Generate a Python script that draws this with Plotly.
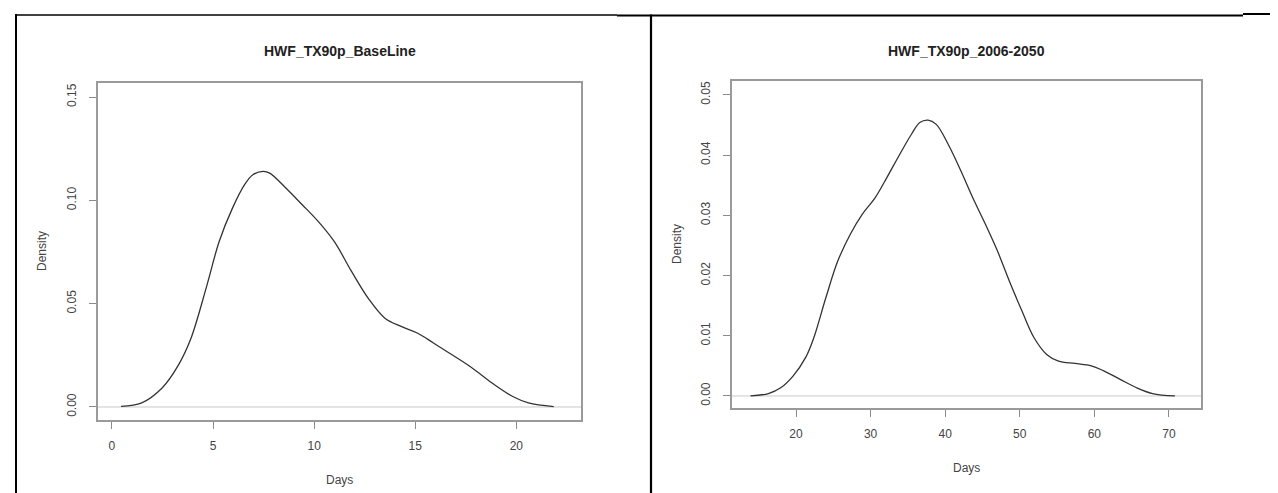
import plotly.graph_objects as go

W, H = 1278, 493

# ---- data ----
base_title = "HWF_TX90p_BaseLine"
base_days = [0.45, 1.47, 2.48, 3.3, 3.9, 4.7, 5.3, 5.95, 6.56, 6.97, 7.47, 7.8, 8.6, 9.4,
             10.2, 11.0, 11.85, 12.67, 13.5, 14.3, 15.1, 15.9, 16.7, 17.8, 18.8, 19.8, 20.6, 21.85]
base_density = [0.0003, 0.002, 0.0092, 0.0205, 0.033, 0.059, 0.080, 0.096, 0.1076, 0.1124, 0.114,
                 0.1132, 0.106, 0.098, 0.0898, 0.080, 0.0656, 0.0527, 0.043, 0.039, 0.0358, 0.031,
                 0.026, 0.019, 0.0116, 0.0052, 0.002, 0.0002]
base_xticks = [0, 5, 10, 15, 20]
base_yticks = [0.00, 0.05, 0.10, 0.15]
base_yticktext = ["0.00", "0.05", "0.10", "0.15"]

fut_title = "HWF_TX90p_2006-2050"
fut_days = [13.9, 16.3, 18.0, 19.6, 21.3, 22.4, 24.0, 25.6, 27.3, 28.9, 30.6, 32.2, 33.9, 35.5,
            36.6, 37.7, 38.8, 40.4, 42.1, 43.7, 45.4, 47.0, 48.6, 50.3, 51.9, 53.6, 55.2, 57.4,
            59.6, 61.2, 63.4, 65.6, 67.8, 70.8]
fut_density = [0.0, 0.0004, 0.0014, 0.0033, 0.0064, 0.0097, 0.0163, 0.0224, 0.0269, 0.0302,
               0.0329, 0.0363, 0.0401, 0.0435, 0.0454, 0.0458, 0.0451, 0.0418, 0.0374, 0.0329,
               0.0285, 0.0241, 0.0191, 0.0141, 0.0097, 0.0069, 0.0058, 0.0054, 0.0050, 0.0042,
               0.0028, 0.0014, 0.0004, 0.0]
fut_xticks = [20, 30, 40, 50, 60, 70]
fut_yticks = [0.00, 0.01, 0.02, 0.03, 0.04, 0.05]
fut_yticktext = ["0.00", "0.01", "0.02", "0.03", "0.04", "0.05"]

x_label = "Days"
y_label = "Density"

FONT = "Liberation Sans, Arial, sans-serif"
TXT = "#444444"


def px(x):
    return x / W


def py(y):
    return 1 - y / H


fig = go.Figure()
fig.add_trace(go.Scatter(x=base_days, y=base_density, mode="lines", xaxis="x", yaxis="y",
                         line=dict(color="#333333", width=1.3, shape="spline", smoothing=1.0),
                         hoverinfo="skip", showlegend=False))
fig.add_trace(go.Scatter(x=fut_days, y=fut_density, mode="lines", xaxis="x2", yaxis="y2",
                         line=dict(color="#333333", width=1.3, shape="spline", smoothing=1.0),
                         hoverinfo="skip", showlegend=False))

axis_common = dict(showgrid=False, zeroline=False, showline=True, mirror=True,
                   linecolor="#9a9a9a", linewidth=1.6, ticks="outside", ticklen=7,
                   tickcolor="#8a8a8a", tickwidth=1.2,
                   tickfont=dict(family=FONT, size=12, color=TXT))

fig.update_layout(
    width=W, height=H, margin=dict(l=0, r=0, t=0, b=0),
    paper_bgcolor="white", plot_bgcolor="white",
    xaxis=dict(domain=[px(90), px(573)], range=[-0.69, 23.2], tickvals=base_xticks,
               anchor="y", ticklabelstandoff=7, **axis_common),
    yaxis=dict(domain=[py(412), py(75)], range=[-0.0063, 0.1568], tickvals=base_yticks,
               ticktext=base_yticktext, tickangle=-90, anchor="x", ticklabelstandoff=8,
               **axis_common),
    xaxis2=dict(domain=[px(724), px(1193)], range=[11.42, 74.3], tickvals=fut_xticks,
                anchor="y2", ticklabelstandoff=7, **axis_common),
    yaxis2=dict(domain=[py(400), py(73)], range=[-0.0020, 0.0523], tickvals=fut_yticks,
                ticktext=fut_yticktext, tickangle=-90, anchor="x2", ticklabelstandoff=8,
                **axis_common),
)

shapes = []
# zero reference lines
for xr, yr in (("x domain", "y"), ("x2 domain", "y2")):
    shapes.append(dict(type="line", xref=xr, yref=yr, x0=0, x1=1, y0=0, y1=0,
                       line=dict(color="#c8c8c8", width=1), layer="below"))
# table borders
shapes += [
    dict(type="line", xref="paper", yref="paper", x0=px(8), x1=px(8), y0=py(6), y1=0,
         line=dict(color="black", width=2)),
    dict(type="line", xref="paper", yref="paper", x0=px(7), x1=px(609), y0=py(7), y1=py(7),
         line=dict(color="black", width=1.4)),
    dict(type="line", xref="paper", yref="paper", x0=px(609), x1=px(1235), y0=py(7.5), y1=py(7.5),
         line=dict(color="black", width=2.2)),
    dict(type="line", xref="paper", yref="paper", x0=px(1235), x1=1, y0=py(6), y1=py(6),
         line=dict(color="black", width=2.2)),
    dict(type="line", xref="paper", yref="paper", x0=px(643), x1=px(643), y0=py(6.5), y1=0,
         line=dict(color="black", width=2.2)),
]
fig.update_layout(shapes=shapes)

ann = []
for cx, ty, title in ((331.5, 43, base_title), (958.5, 43, fut_title)):
    ann.append(dict(x=px(cx), y=py(ty), xref="paper", yref="paper", text="<b>%s</b>" % title,
                    showarrow=False, xanchor="center", yanchor="middle",
                    font=dict(family=FONT, size=14, color="#222222")))
for cx, cy in ((331.5, 472), (958.5, 460)):
    ann.append(dict(x=px(cx), y=py(cy), xref="paper", yref="paper", text=x_label,
                    showarrow=False, xanchor="center", yanchor="middle",
                    font=dict(family=FONT, size=12, color=TXT)))
for cx, cy in ((34, 243), (669, 236)):
    ann.append(dict(x=px(cx), y=py(cy), xref="paper", yref="paper", text=y_label,
                    showarrow=False, xanchor="center", yanchor="middle", textangle=-90,
                    font=dict(family=FONT, size=12, color=TXT)))
fig.update_layout(annotations=ann)

fig.write_html("out.html")
